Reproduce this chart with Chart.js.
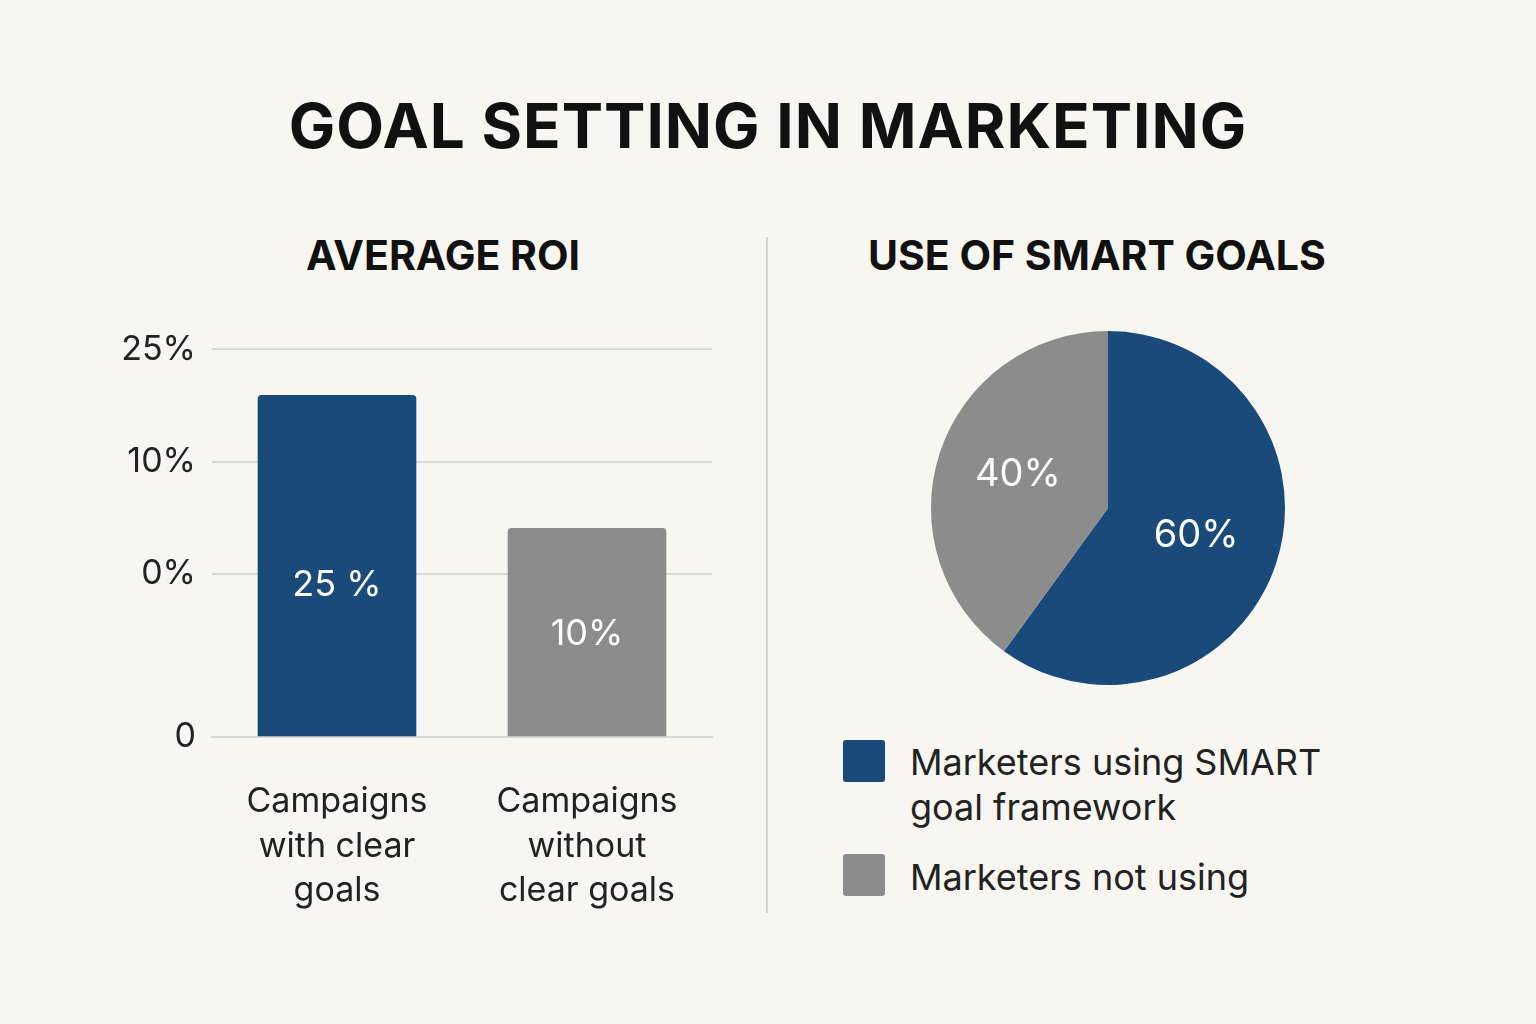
<!DOCTYPE html>
<html>
<head>
<meta charset="utf-8">
<script src="https://cdn.jsdelivr.net/npm/chart.js@4"></script>
<style>
body { margin:0; width:1536px; height:1024px; background:#f8f6f1; font-family:"Inter","Noto Sans",sans-serif; position:relative; overflow:hidden; color:#111; }
.abs { position:absolute; }
h1 { position:absolute; left:0; width:1536px; top:88px; margin:0; text-align:center; font-size:62px; font-weight:700; letter-spacing:1px; }
h2 { position:absolute; margin:0; font-size:41px; font-weight:700; top:230px; }
.sw { position:absolute; width:42px; height:42px; border-radius:3px; }
.lg { position:absolute; left:910px; font-size:36px; line-height:45px; color:#222; }
</style>
</head>
<body>
<h1>GOAL SETTING IN MARKETING</h1>
<h2 style="left:306px">AVERAGE ROI</h2>
<h2 style="left:868px">USE OF SMART GOALS</h2>
<div class="abs" style="left:766px;top:237px;width:2px;height:676px;background:#d6d3cd"></div>
<canvas id="bar" class="abs" style="left:100px;top:313px;width:620px;height:600px"></canvas>
<canvas id="pie" class="abs" style="left:920px;top:320px;width:376px;height:376px"></canvas>
<div class="sw" style="left:843px;top:740px;background:#1a4a7a"></div>
<div class="lg" style="top:740px">Marketers using SMART<br>goal framework</div>
<div class="sw" style="left:843px;top:854px;background:#8c8c8c"></div>
<div class="lg" style="top:855px">Marketers not using</div>
<script>
// bar chart: axis positions as drawn in the picture (uneven axis)
const barCategories = [['Campaigns', 'with clear', 'goals'], ['Campaigns', 'without', 'clear goals']];
const barHeights = [365, 223];
const barValueLabels = ['25 %', '10%'];
const yTickValues = [0, 174, 294, 414];
const yTickLabels = ['0', '0%', '10%', '25%'];

// pie chart
const pieLabels = ['Marketers using SMART goal framework', 'Marketers not using'];
const pieValues = [60, 40];

const blue = '#1a4a7a';
const grey = '#8c8c8c';

const barText = {
    id: 'barText',
    afterDatasetsDraw(chart) {
        const ctx = chart.ctx;
        ctx.save();
        ctx.fillStyle = '#fff';
        ctx.font = '36px Inter, "Noto Sans", sans-serif';
        ctx.textAlign = 'center';
        ctx.textBaseline = 'middle';
        chart.getDatasetMeta(0).data.forEach((b, i) => {
            ctx.fillText(barValueLabels[i], b.x, (b.y + b.base) / 2 + (i == 0 ? 20 : 2));
        });
        ctx.restore();
    }
};

new Chart(document.getElementById('bar'), {
    type: 'bar',
    data: {
        labels: barCategories,
        datasets: [{ data: barHeights, backgroundColor: [blue, grey], barThickness: 158, borderRadius: 4, borderSkipped: 'bottom' }]
    },
    options: {
        responsive: false, animation: false,
        layout: { padding: { top: 10, right: 8 } },
        plugins: { legend: { display: false }, tooltip: { enabled: false } },
        scales: {
            y: {
                min: 0, max: 414,
                afterBuildTicks: s => { s.ticks = yTickValues.map(v => ({ value: v })); },
                afterFit: s => { s.width = 112; },
                ticks: { callback: (v) => yTickLabels[yTickValues.indexOf(v)], color: '#222', font: { size: 34, family: 'Inter' }, padding: 16 },
                grid: { color: '#d8d8d8', lineWidth: 2, drawTicks: false },
                border: { display: false }
            },
            x: {
                afterFit: s => { s.height = 176; },
                ticks: { color: '#222', font: { size: 34, family: 'Inter', lineHeight: 1.32 }, padding: 34, maxRotation: 0 },
                grid: { display: false },
                border: { color: '#d8d8d8', width: 2 }
            }
        }
    },
    plugins: [barText]
});

const pieText = {
    id: 'pieText',
    afterDatasetsDraw(chart) {
        const ctx = chart.ctx;
        ctx.save();
        ctx.fillStyle = '#fff';
        ctx.font = '38px Inter, "Noto Sans", sans-serif';
        ctx.textAlign = 'center';
        ctx.textBaseline = 'middle';
        chart.getDatasetMeta(0).data.forEach((a, i) => {
            const p = a.tooltipPosition();
            ctx.fillText(pieValues[i] + '%', p.x + (i == 0 ? 4 : -6), p.y + (i == 0 ? 0 : -6));
        });
        ctx.restore();
    }
};

new Chart(document.getElementById('pie'), {
    type: 'pie',
    data: { labels: pieLabels, datasets: [{ data: pieValues, backgroundColor: [blue, grey], borderWidth: 0 }] },
    options: {
        responsive: false, animation: false, radius: 177,
        plugins: { legend: { display: false }, tooltip: { enabled: false } }
    },
    plugins: [pieText]
});
</script>
</body>
</html>
